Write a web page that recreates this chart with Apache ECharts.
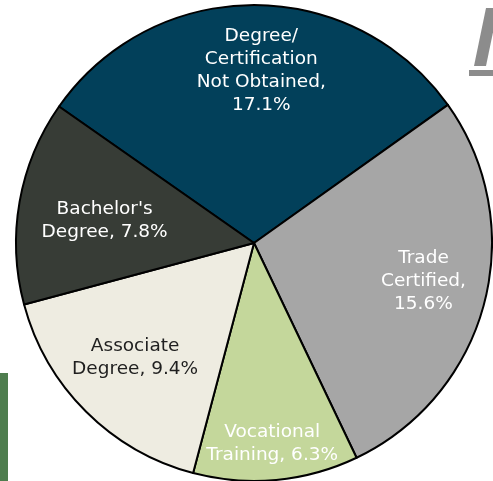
<!DOCTYPE html>
<html>
<head>
<meta charset="utf-8">
<script src="https://cdn.jsdelivr.net/npm/echarts@6/dist/echarts.min.js"></script>
<style>html,body{margin:0;padding:0;background:#fff}#c{width:493px;height:481px}</style>
</head>
<body>
<div id="c"></div>
<script>
const categories = ["Degree/\nCertification\nNot Obtained", "Trade\nCertified", "Vocational\nTraining", "Associate\nDegree", "Bachelor's\nDegree"];
const values = [17.1, 15.6, 6.3, 9.4, 7.8];
const labelTexts = ["Degree/\nCertification\nNot Obtained,\n17.1%", "Trade\nCertified,\n15.6%", "Vocational\nTraining, 6.3%", "Associate\nDegree, 9.4%", "Bachelor's\nDegree, 7.8%"];

const colors = ["#02405A", "#A6A6A6", "#C4D79B", "#EEECE1", "#373C36"];
const textColors = ["#ffffff", "#ffffff", "#ffffff", "#1f1f1f", "#ffffff"];
const labelShift = [[8, 2], [1, -5], [2, 27], [4, -9], [22, 8]];

const chart = echarts.init(document.getElementById('c'), null, {renderer: 'canvas'});
const font = "'DejaVu Sans', sans-serif";
const centerPt = [254, 243];
const R = 238;

const mainData = categories.map((c, i) => ({
  name: c, value: values[i],
  itemStyle: {color: colors[i]}
}));
const labelData = categories.map((c, i) => ({
  name: c, value: values[i],
  label: {formatter: labelTexts[i], color: textColors[i], offset: labelShift[i]}
}));

chart.setOption({
  animation: false,
  graphic: [
    {type: 'rect', shape: {x: 0, y: 373, width: 8, height: 110}, style: {fill: '#4E7D4E'}, z: 0},
    {type: 'polygon', shape: {points: [[474, 66], [486, 8], [498, 8], [486, 66]]}, style: {fill: '#8C8C8C'}, z: 0},
    {type: 'rect', shape: {x: 469, y: 70, width: 30, height: 6}, style: {fill: '#8C8C8C'}, z: 0}
  ],
  series: [
    {
      type: 'pie',
      center: centerPt,
      radius: [0, R],
      startAngle: 145,
      clockwise: true,
      silent: true,
      label: {show: false},
      labelLine: {show: false},
      itemStyle: {borderColor: '#000', borderWidth: 2},
      data: mainData
    },
    {
      type: 'pie',
      center: centerPt,
      radius: [104, R],
      startAngle: 145,
      clockwise: true,
      silent: true,
      itemStyle: {color: 'rgba(0,0,0,0)', borderWidth: 0},
      labelLine: {show: false},
      label: {
        show: true, position: 'inside',
        fontFamily: font, fontSize: 18.5, lineHeight: 23, align: 'center'
      },
      data: labelData
    }
  ]
});
</script>
</body>
</html>
